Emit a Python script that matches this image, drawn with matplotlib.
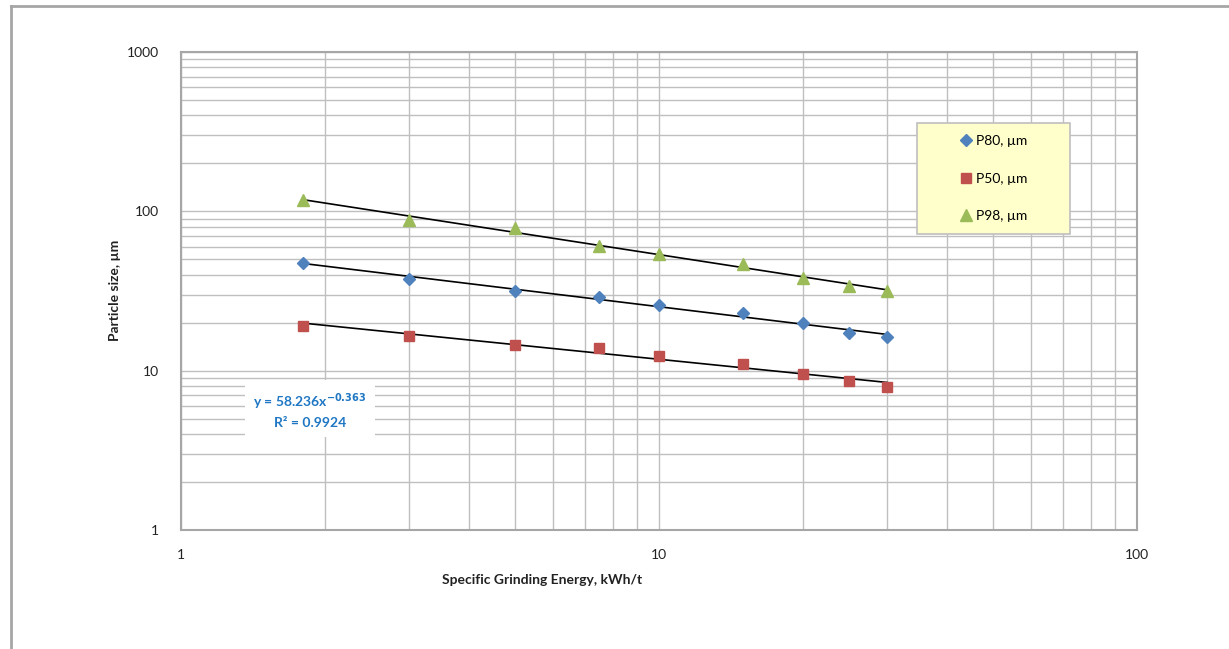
import numpy as np
import matplotlib
matplotlib.use("Agg")
import matplotlib.pyplot as plt
from matplotlib.patches import Rectangle
from matplotlib.lines import Line2D

plt.rcParams['font.family'] = ['Lato', 'DejaVu Sans']

# data
energy = [1.8, 3.0, 5.0, 7.5, 10, 15, 20, 25, 30]
p80 = [47.4, 37.5, 31.7, 29.0, 25.9, 23.0, 20.0, 17.2, 16.3]
p50 = [19.1, 16.5, 14.5, 13.9, 12.4, 11.0, 9.5, 8.6, 7.9]
p98 = [118, 88, 79, 60.6, 54, 46.7, 38.2, 34, 31.7]

series_names = ['P80, µm', 'P50, µm', 'P98, µm']
series_colors = ['#4F81BD', '#C0504D', '#9BBB59']
series_markers = ['D', 's', '^']
series_sizes = [6, 7, 8]

fig = plt.figure(figsize=(12.29, 6.49), dpi=100)
ax = fig.add_axes([181 / 1229, 119 / 649, 956 / 1229, 478 / 649])

# outer chart border (left and top visible)
fig.add_artist(Line2D([11 / 1229, 11 / 1229], [0, 1 - 6 / 649], transform=fig.transFigure,
                      color='#A6A6A6', lw=2))
fig.add_artist(Line2D([11 / 1229, 1], [1 - 6 / 649, 1 - 6 / 649], transform=fig.transFigure,
                      color='#A6A6A6', lw=2))

ax.set_xscale('log')
ax.set_yscale('log')
ax.set_xlim(1, 100)
ax.set_ylim(1, 1000)

ax.grid(True, which='both', color='#BFBFBF', lw=1)
ax.set_axisbelow(True)
for s in ax.spines.values():
    s.set_color('#A6A6A6')
    s.set_linewidth(1.5)
ax.tick_params(which='both', length=0, labelsize=10, colors='#222222')
ax.tick_params(axis='x', pad=14)
ax.tick_params(axis='y', pad=16)
ax.set_xticks([1, 10, 100])
ax.set_xticklabels(['1', '10', '100'])
ax.set_yticks([1, 10, 100, 1000])
ax.set_yticklabels(['1', '10', '100', '1000'])
ax.xaxis.set_minor_formatter(plt.NullFormatter())
ax.yaxis.set_minor_formatter(plt.NullFormatter())

x = np.array(energy)
handles = []
for vals, name, c, m, ms in zip([p80, p50, p98], series_names, series_colors,
                                series_markers, series_sizes):
    y = np.array(vals)
    b, a = np.polyfit(np.log(x), np.log(y), 1)
    xf = np.array([x.min(), x.max()])
    ax.plot(xf, np.exp(a) * xf ** b, color='black', lw=1.2, zorder=3)
    h, = ax.plot(x, y, linestyle='none', marker=m, color=c, ms=ms, zorder=4, label=name)
    handles.append(h)

# legend box
lx0, ly0 = (917 - 181) / 956, (530 - 234) / 478
lw_, lh_ = (1070 - 917) / 956, (234 - 123) / 478
ax.add_patch(Rectangle((lx0, ly0), lw_, lh_, transform=ax.transAxes, facecolor='#FFFFCC',
                       edgecolor='#BFBFBF', lw=1.2, zorder=5))
ax.legend(handles=handles, loc='center', bbox_to_anchor=(lx0 + lw_ / 2, ly0 + lh_ / 2),
          frameon=False, fontsize=10, labelspacing=1.85, handletextpad=0.2,
          handlelength=1.0).set_zorder(6)

# trendline equation
ax.text((310 - 181) / 956, (530 - 410) / 478, 'y = 58.236x$^{\\mathbf{-0.363}}$\nR² = 0.9924',
        transform=ax.transAxes, ha='center', va='center', color='#1F77C4',
        fontsize=10, fontweight='bold', linespacing=1.5, zorder=6,
        bbox=dict(facecolor='white', edgecolor='none', pad=6))

fig.text(542 / 1229, 1 - 580 / 649, 'Specific Grinding Energy, kWh/t', ha='center', va='center',
         fontsize=10, fontweight='bold', color='#222222')
fig.text(115 / 1229, 1 - 290 / 649, 'Particle size, µm', ha='center', va='center',
         rotation=90, fontsize=10, fontweight='bold', color='#222222')

fig.savefig('out.png', dpi=100)
